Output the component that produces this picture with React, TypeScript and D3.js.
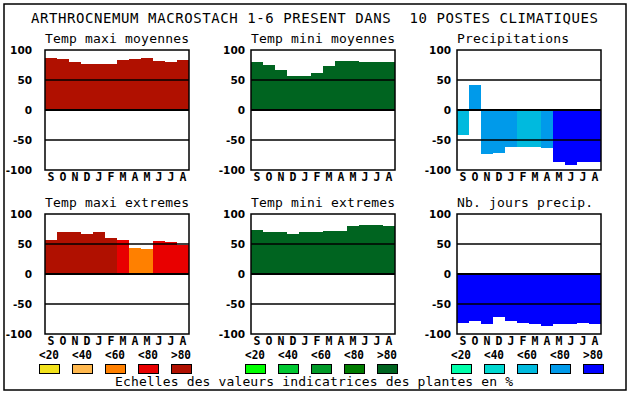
import * as d3 from 'd3'

const TITLE = 'ARTHROCNEMUM MACROSTACH 1-6 PRESENT DANS  10 POSTES CLIMATIQUES'
const FOOTER = 'Echelles des valeurs indicatrices des plantes en %'
const MONTHS = ['S', 'O', 'N', 'D', 'J', 'F', 'M', 'A', 'M', 'J', 'J', 'A']
const CLASSES = ['<20', '<40', '<60', '<80', '>80']
const TICKS = [100, 50, 0, -50, -100]
const GRID = [50, 0, -50]

const REDS = ['#f2e21c', '#ffb84e', '#ff8000', '#e80000', '#b01000']
const GREENS = ['#00ff00', '#00c832', '#009a28', '#007c00', '#006420']
const BLUES = ['#00ffaa', '#00d8d0', '#00bade', '#009aea', '#0000ff']

const TITLES = [
  'Temp maxi moyennes', 'Temp mini moyennes', 'Precipitations',
  'Temp maxi extremes', 'Temp mini extremes', 'Nb. jours precip.',
]

const maxiMoy = [87, 85, 80, 77, 77, 77, 83, 85, 87, 82, 80, 83]
const miniMoy = [80, 75, 67, 57, 57, 62, 74, 82, 82, 80, 80, 80]
const precip = [-42, 42, -74, -71, -61, -61, -62, -64, -86, -91, -86, -87]
const maxiExt = [57, 70, 70, 67, 70, 60, 57, 44, 42, 55, 54, 49]
const miniExt = [74, 70, 70, 67, 70, 70, 72, 72, 80, 82, 82, 80]
const joursPrecip = [-81, -78, -83, -71, -78, -81, -84, -86, -83, -84, -81, -84]

// colour class (index into the legend scale) of each month
const precipClass = [2, 3, 3, 3, 3, 2, 2, 3, 4, 4, 4, 4]
const maxiExtClass = [4, 4, 4, 4, 4, 4, 3, 2, 2, 3, 3, 3]
const allTop = MONTHS.map(() => 4)

const PANELS = [
  { values: maxiMoy, cls: allTop, pal: REDS },
  { values: miniMoy, cls: allTop, pal: GREENS },
  { values: precip, cls: precipClass, pal: BLUES },
  { values: maxiExt, cls: maxiExtClass, pal: REDS },
  { values: miniExt, cls: allTop, pal: GREENS },
  { values: joursPrecip, cls: allTop, pal: BLUES },
]

const COL_X = [45, 251, 457]
const LABEL_END = [32, 245, 451]
const ROW_Y = [50, 214]
const PW = 144
const PH = 120
const MONO = '"DejaVu Sans Mono", monospace'
const BOLD = '"DejaVu Sans", sans-serif'

function Panel({ idx }: { idx: number }) {
  const col = idx % 3
  const row = Math.floor(idx / 3)
  const left = COL_X[col]
  const top = ROW_Y[row]
  const { values, cls, pal } = PANELS[idx]
  const x = d3.scaleBand<number>().domain(d3.range(MONTHS.length)).range([left, left + PW])
  const y = d3.scaleLinear().domain([-100, 100]).range([top + PH, top])

  return (
    <g>
      <text x={left} y={top - 7} fontFamily={MONO} fontSize={13}
        textLength={TITLES[idx].length * 8} lengthAdjust="spacing">
        {TITLES[idx]}
      </text>
      {values.map((v, i) => (
        <rect key={i} x={x(i)} width={x.bandwidth()} y={y(Math.max(0, v))}
          height={Math.abs(y(v) - y(0))} fill={pal[cls[i]]} shapeRendering="crispEdges" />
      ))}
      {GRID.map(t => (
        <line key={t} x1={left} x2={left + PW} y1={y(t)} y2={y(t)}
          stroke="#000" strokeWidth={t === 0 ? 2 : 1.5} />
      ))}
      <rect x={left} y={top} width={PW} height={PH} fill="none" stroke="#000" strokeWidth={1.5} />
      {TICKS.map(t => (
        <text key={t} x={LABEL_END[col]} y={y(t) + 4} textAnchor="end" fontFamily={BOLD}
          fontWeight="bold" fontSize={10.5}>{t}</text>
      ))}
      {MONTHS.map((m, i) => (
        <text key={i} x={x(i)! + x.bandwidth() / 2} y={top + PH + 10.5} textAnchor="middle"
          fontFamily={MONO} fontWeight="bold" fontSize={11.5}>{m}</text>
      ))}
    </g>
  )
}

function Legend({ col }: { col: number }) {
  const pal = [REDS, GREENS, BLUES][col]
  const lx = d3.scalePoint<string>().domain(CLASSES).range([COL_X[col] - 6, COL_X[col] + 126])
  return (
    <g>
      {CLASSES.map((c, i) => (
        <g key={c}>
          <text x={lx(c)!} y={358.5} fontFamily={MONO} fontWeight="bold" fontSize={11.5}
            textLength={20} lengthAdjust="spacingAndGlyphs">{c}</text>
          <rect x={lx(c)! + 0.5} y={364.5} width={20} height={9} fill={pal[i]} stroke="#000" />
        </g>
      ))}
    </g>
  )
}

export default function App() {
  return (
    <svg width={630} height={394} style={{ position: 'absolute', left: 0, top: 0, background: '#fff' }}>
      <rect x={0} y={0} width={630} height={394} fill="#fff" />
      <rect x={4} y={4} width={622} height={386} fill="none" stroke="#000" strokeWidth={1.5} />
      <text x={31} y={23} fontFamily={MONO} fontSize={14} textLength={567} lengthAdjust="spacing"
        style={{ whiteSpace: 'pre' }}>
        {TITLE}
      </text>
      {d3.range(6).map(i => <Panel key={i} idx={i} />)}
      {d3.range(3).map(c => <Legend key={c} col={c} />)}
      <text x={115} y={386} fontFamily={MONO} fontSize={13} textLength={398} lengthAdjust="spacing">
        {FOOTER}
      </text>
    </svg>
  )
}
